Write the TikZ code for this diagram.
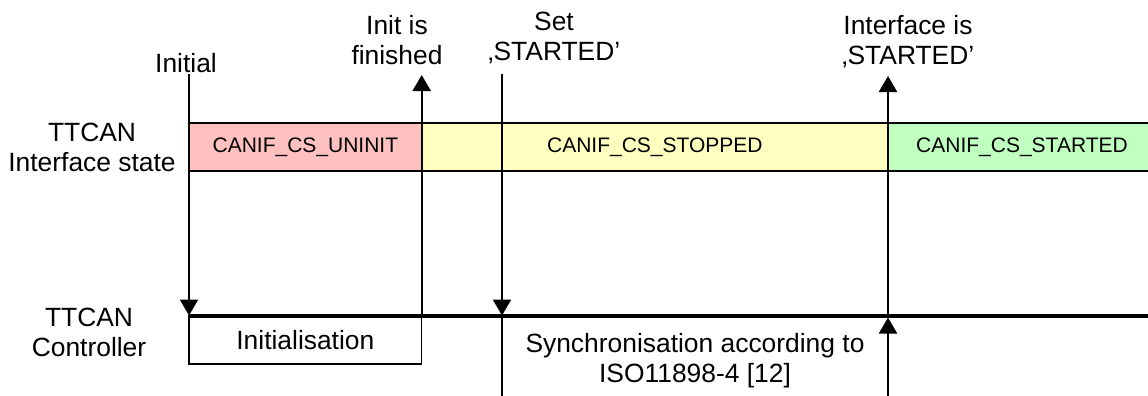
\documentclass[tikz,border=0pt]{standalone}
\usepackage{fontspec}
\setmainfont{Liberation Sans}
\usetikzlibrary{arrows.meta}
\definecolor{uninitred}{RGB}{255,192,192}
\definecolor{stoppedyellow}{RGB}{255,255,192}
\definecolor{startedgreen}{RGB}{192,255,192}
\tikzset{
  biglabel/.style={anchor=base,align=center,inner sep=0pt,font=\fontsize{26.4}{30}\selectfont},
  statebox/.style={draw,line width=1.2pt,inner sep=0pt,outer sep=0pt,anchor=north west,
    minimum height=48pt,font=\fontsize{21}{25}\selectfont},
  evarrow/.style={line width=2.4pt,-{Triangle[width=18pt,length=16pt]}},
  thinline/.style={line width=1.7pt},
}

\begin{document}
\begin{tikzpicture}[x=1pt,y=-1pt]
\clip (0,0) rectangle (1148,396);
\pgfmathsetmacro{\bandtop}{123}
\pgfmathsetmacro{\ctrly}{315.5}
\pgfmathsetmacro{\xinit}{189}
\pgfmathsetmacro{\xdone}{421.7}
\pgfmathsetmacro{\xset}{502}
\pgfmathsetmacro{\xstart}{888}

\node[statebox,fill=uninitred,minimum width=232.7pt] (uninit) at (\xinit,\bandtop) {CANIF\_CS\_UNINIT};
\node[statebox,fill=stoppedyellow,minimum width=466.3pt] (stopped) at (\xdone,\bandtop) {CANIF\_CS\_STOPPED};
\node[statebox,fill=startedgreen,minimum width=268pt] (started) at (\xstart,\bandtop) {CANIF\_CS\_STARTED};

\node[biglabel] (ifstate) at (92,171.7) {TTCAN\\Interface state};
\node[biglabel] (ctrl) at (89,356.7) {TTCAN\\Controller};

\node[biglabel] (initial) at (186,72) {Initial};
\node[biglabel] (finished) at (397,64.5) {Init is\\finished};
\node[biglabel] (setstarted) at (554,60) {Set\\‚STARTED’};
\node[biglabel] (isstarted) at (908,65) {Interface is\\‚STARTED’};

\node[statebox,minimum width=232.7pt,minimum height=48.5pt,font=\fontsize{26.4}{30}\selectfont] (initbox) at (\xinit,\ctrly) {Initialisation};
\node[biglabel] (sync) at (695,382.7) {Synchronisation according to\\ISO11898-4 [12]};

\coordinate (ctrlstart) at (\xinit,\ctrly);
\coordinate (ctrlend) at (1148,\ctrly);
\coordinate (initialtop) at (\xinit,74);
\coordinate (donetop) at (\xdone,75);
\coordinate (donectrl) at (\xdone,\ctrly);
\coordinate (settop) at (\xset,74);
\coordinate (setctrl) at (\xset,\ctrly);
\coordinate (setbottom) at (\xset,396);
\coordinate (starttop) at (\xstart,76);
\coordinate (startctrl) at (\xstart,\ctrly);
\coordinate (startlow) at (\xstart,317.5);
\coordinate (startbottom) at (\xstart,396);

\draw[line width=4pt] (ctrlstart) -- (ctrlend);
\draw[evarrow] (initialtop) -- (ctrlstart);
\draw[evarrow] (donectrl) -- (donetop);
\draw[evarrow] (settop) -- (setctrl);
\draw[thinline] (setctrl) -- (setbottom);
\draw[evarrow] (startctrl) -- (starttop);
\draw[evarrow,line width=2pt] (startbottom) -- (startlow);
\end{tikzpicture}
\end{document}
